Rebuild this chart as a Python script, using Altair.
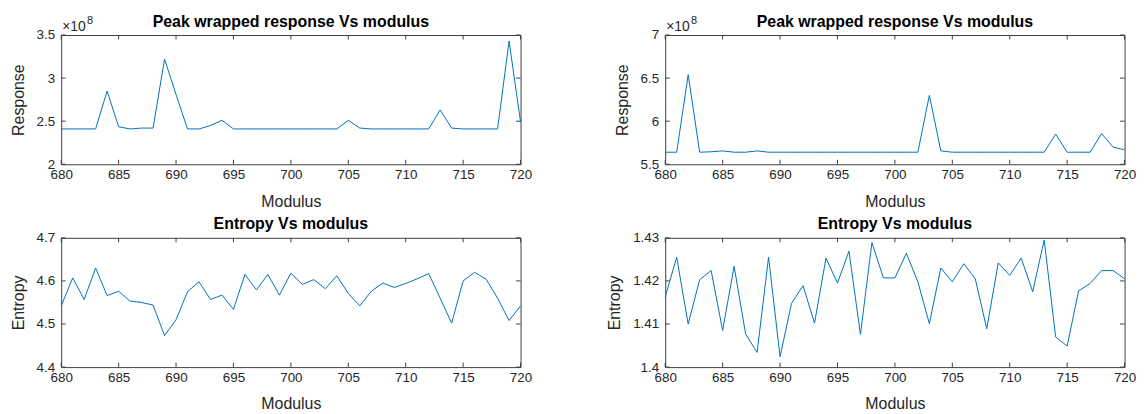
import altair as alt
import pandas as pd

# ---------------- data ----------------
modulus = list(range(680, 721))

# Peak wrapped response (units of 1e8)
resp_left = [2.41, 2.41, 2.41, 2.41, 2.85, 2.435, 2.41, 2.42, 2.42, 3.22,
             2.81, 2.41, 2.41, 2.45, 2.51, 2.41, 2.41, 2.41, 2.41, 2.41,
             2.41, 2.41, 2.41, 2.41, 2.41, 2.51, 2.42, 2.41, 2.41, 2.41,
             2.41, 2.41, 2.41, 2.63, 2.42, 2.41, 2.41, 2.41, 2.41, 3.43,
             2.49]
resp_right = [5.64, 5.64, 6.54, 5.64, 5.645, 5.655, 5.64, 5.64, 5.655, 5.64,
              5.64, 5.64, 5.64, 5.64, 5.64, 5.64, 5.64, 5.64, 5.64, 5.64,
              5.64, 5.64, 5.64, 6.30, 5.655, 5.64, 5.64, 5.64, 5.64, 5.64,
              5.64, 5.64, 5.64, 5.64, 5.85, 5.64, 5.64, 5.64, 5.856, 5.70,
              5.667]
ent_left = [4.542, 4.607, 4.557, 4.630, 4.566, 4.576, 4.553, 4.550, 4.544, 4.473,
            4.510, 4.575, 4.598, 4.557, 4.567, 4.534, 4.615, 4.579, 4.615, 4.567,
            4.618, 4.592, 4.603, 4.582, 4.612, 4.571, 4.542, 4.576, 4.595, 4.585,
            4.594, 4.605, 4.617, 4.560, 4.502, 4.600, 4.620, 4.604, 4.560, 4.508,
            4.542]
ent_right = [1.4163, 1.4255, 1.4100, 1.4203, 1.4224, 1.4085, 1.4234, 1.4077, 1.4034, 1.4255,
             1.4024, 1.4148, 1.4189, 1.4102, 1.4253, 1.4195, 1.4269, 1.4076, 1.4289, 1.4207,
             1.4207, 1.4264, 1.4198, 1.4101, 1.4230, 1.4198, 1.4240, 1.4205, 1.4089, 1.4242,
             1.4213, 1.4253, 1.4175, 1.4295, 1.4070, 1.4049, 1.4177, 1.4194, 1.4224, 1.4224,
             1.4205]

x_ticks = [680, 685, 690, 695, 700, 705, 710, 715, 720]
yt_resp_left = [2, 2.5, 3, 3.5]
yt_resp_right = [5.5, 6, 6.5, 7]
yt_ent_left = [4.4, 4.5, 4.6, 4.7]
yt_ent_right = [1.40, 1.41, 1.42, 1.43]

title_resp = "Peak wrapped response Vs modulus"
title_ent = "Entropy Vs modulus"
exp_base = ["×10"]
exp_power = ["8"]

# ---------------- style ----------------
W, H = 462, 130
TXT = "#262626"
BOX = "#404040"
LINE = "#0072BD"
TL = 4.5
FONT = "Liberation Sans"


def panel(values, yticks, title, ytitle, fmt, title_x, exponent=False):
    df = pd.DataFrame({"Modulus": modulus, "v": values})
    xs = alt.Scale(domain=[680, 720], nice=False, zero=False)
    ys = alt.Scale(domain=[yticks[0], yticks[-1]], nice=False, zero=False)
    xa = alt.Axis(values=x_ticks, format="d", title="Modulus",
                  ticks=False, tickSize=0, domain=False, grid=False,
                  labelFlush=False, labelFontSize=13.5, labelColor=TXT,
                  labelPadding=3, titleFontSize=16, titleFontWeight="normal",
                  titleColor=TXT, titleY=29, titleBaseline="top")
    ya = alt.Axis(values=yticks, format=fmt, title=ytitle,
                  ticks=False, tickSize=0, domain=False, grid=False,
                  labelFontSize=13.5, labelColor=TXT, labelPadding=6.5,
                  titleFontSize=16, titleFontWeight="normal", titleColor=TXT,
                  titleX=title_x, titleY=H / 2, titleAngle=-90,
                  titleAlign="center", titleBaseline="alphabetic")
    X = alt.X("Modulus:Q", scale=xs, axis=xa)
    Y = alt.Y("v:Q", scale=ys, axis=ya)

    line = alt.Chart(df).mark_line(color=LINE, strokeWidth=1).encode(x=X, y=Y)

    xt = pd.DataFrame({"Modulus": x_ticks})
    yt = pd.DataFrame({"v": yticks})
    tick_x_bottom = alt.Chart(xt).mark_rule(color=BOX, strokeWidth=1).encode(
        x=X, y=alt.value(H), y2=alt.value(H - TL))
    tick_x_top = alt.Chart(xt).mark_rule(color=BOX, strokeWidth=1).encode(
        x=X, y=alt.value(0), y2=alt.value(TL))
    tick_y_left = alt.Chart(yt).mark_rule(color=BOX, strokeWidth=1).encode(
        y=Y, x=alt.value(0), x2=alt.value(TL))
    tick_y_right = alt.Chart(yt).mark_rule(color=BOX, strokeWidth=1).encode(
        y=Y, x=alt.value(W), x2=alt.value(W - TL))

    ttl = alt.Chart(pd.DataFrame({"t": [title]})).mark_text(
        align="center", baseline="alphabetic", fontSize=16, fontWeight="bold",
        color="#000000", font=FONT
    ).encode(text="t:N", x=alt.value(W / 2), y=alt.value(-8.5))

    layers = [line, tick_x_bottom, tick_x_top, tick_y_left, tick_y_right, ttl]
    if exponent:
        eb = alt.Chart(pd.DataFrame({"t": exp_base})).mark_text(
            align="left", baseline="alphabetic", fontSize=14, color=TXT, font=FONT
        ).encode(text="t:N", x=alt.value(1), y=alt.value(-3.7))
        ep = alt.Chart(pd.DataFrame({"t": exp_power})).mark_text(
            align="left", baseline="alphabetic", fontSize=11, color=TXT, font=FONT
        ).encode(text="t:N", x=alt.value(26), y=alt.value(-11.3))
        layers += [eb, ep]

    return alt.layer(*layers).properties(width=W, height=H)


tl = panel(resp_left, yt_resp_left, title_resp, "Response", ".1~f", -38, exponent=True)
tr = panel(resp_right, yt_resp_right, title_resp, "Response", ".1~f", -38, exponent=True)
bl = panel(ent_left, yt_ent_left, title_ent, "Entropy", ".1f", -38)
br = panel(ent_right, yt_ent_right, title_ent, "Entropy", ".2~f", -46)

chart = alt.concat(tl, tr, bl, br, columns=2,
                   spacing={"row": 74, "column": 145.5}, bounds="flush").properties(
    padding={"left": 1.5, "top": 4, "right": 0, "bottom": 0}
).configure(font=FONT).configure_view(stroke=BOX, strokeWidth=1)

chart.save("out.html", embed_options={"renderer": "svg", "actions": False})
